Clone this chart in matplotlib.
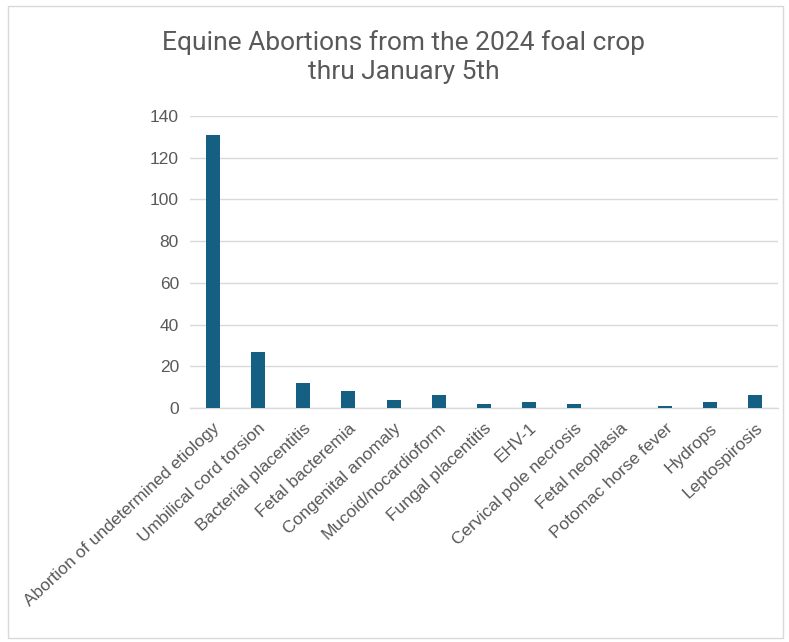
import matplotlib
matplotlib.use("Agg")
import matplotlib.pyplot as plt
from matplotlib.patches import Rectangle

categories = [
    "Abortion of undetermined etiology",
    "Umbilical cord torsion",
    "Bacterial placentitis",
    "Fetal bacteremia",
    "Congenital anomaly",
    "Mucoid/nocardioform",
    "Fungal placentitis",
    "EHV-1",
    "Cervical pole necrosis",
    "Fetal neoplasia",
    "Potomac horse fever",
    "Hydrops",
    "Leptospirosis",
]
counts = [131, 27, 12, 8, 4, 6, 2, 3, 2, 0, 1, 3, 6]
yticks = [0, 20, 40, 60, 80, 100, 120, 140]
title = "Equine Abortions from the 2024 foal crop\nthru January 5th"

W, H = 789, 642
fig = plt.figure(figsize=(W / 100, H / 100), dpi=100)
fig.patch.set_facecolor("white")

# outer chart frame
fig.add_artist(Rectangle((8 / W, 4 / H), (W - 14) / W, (H - 10) / H,
                         transform=fig.transFigure, fill=False,
                         edgecolor="#d9d9d9", linewidth=1.0))

ax = fig.add_axes([190 / W, 1 - 408 / H, (778 - 190) / W, (408 - 116) / H])
x = list(range(len(categories)))
ax.bar(x, counts, width=0.31, color="#156082", zorder=3)
ax.set_xlim(-0.5, len(categories) - 0.5)
ax.set_ylim(0, 140)
ax.set_yticks(yticks)
ax.set_yticklabels([str(v) for v in yticks], fontsize=12.5, color="#595959",
                   family=["Liberation Sans", "DejaVu Sans"])
ax.set_xticks(x)
ax.set_xticklabels(categories, rotation=43, ha="right", rotation_mode="anchor",
                   fontsize=12.5, color="#595959",
                   family=["Liberation Sans", "DejaVu Sans"])
ax.tick_params(axis="both", length=0)
ax.tick_params(axis="x", pad=9)
ax.tick_params(axis="y", pad=8)
ax.grid(axis="y", color="#d9d9d9", linewidth=1.0, zorder=0)
for s in ["top", "right", "left"]:
    ax.spines[s].set_visible(False)
ax.spines["bottom"].set_color("#d9d9d9")
ax.spines["bottom"].set_linewidth(1.0)

fig.text(404 / W, 1 - 57 / H, title, ha="center", va="center",
         fontsize=19, color="#595959", linespacing=1.25,
         family=["Roboto", "DejaVu Sans"])

fig.savefig("out.png", dpi=100)
